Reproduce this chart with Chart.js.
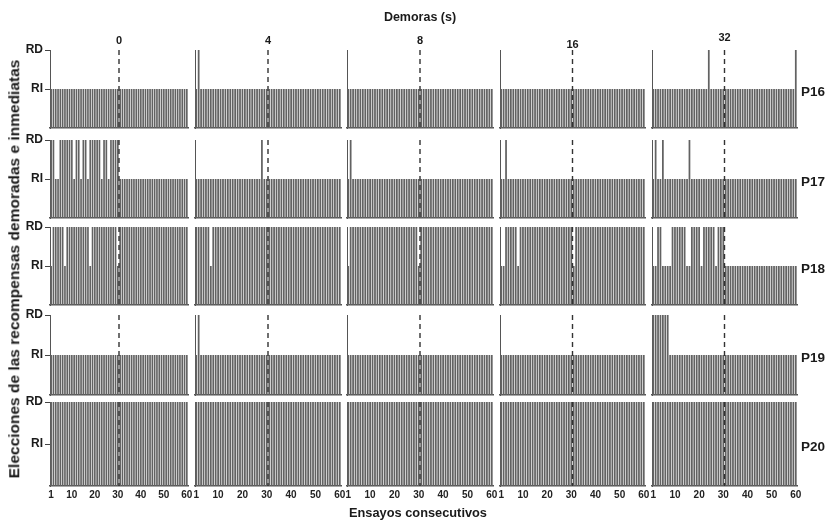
<!DOCTYPE html>
<html><head><meta charset="utf-8">
<script src="https://cdn.jsdelivr.net/npm/chart.js@4.4.0/dist/chart.umd.min.js"></script>
<style>
html,body{margin:0;padding:0;background:#fff;width:829px;height:522px;overflow:hidden;position:relative;font-family:"Liberation Sans",Arial,sans-serif;}
canvas{position:absolute;}
.t{position:absolute;font-weight:bold;color:#1a1a1a;white-space:nowrap;line-height:1;}
</style></head><body>
<script>
// ---------- DATA ----------
const delays = ['0', '4', '8', '16', '32'];            // Demoras (s)
const participants = ['P16', 'P17', 'P18', 'P19', 'P20'];
const trials = [1,2,3,4,5,6,7,8,9,10,11,12,13,14,15,16,17,18,19,20,21,22,23,24,25,26,27,28,29,30,
                31,32,33,34,35,36,37,38,39,40,41,42,43,44,45,46,47,48,49,50,51,52,53,54,55,56,57,58,59,60];
const xTickLabels = ['1', '10', '20', '30', '40', '50', '60'];
const yTickLabels = ['RI', 'RD'];
const yTickValues = [0.5, 1];
const choiceValue = { I: 0.5, D: 1 };   // I = RI (inmediata), D = RD (demorada)
const delayOnsetAfterTrial = 30;

// one string per delay (0,4,8,16,32); each 60 trials, grouped by 10
const P16 = [
  'IIIIIIIIII IIIIIIIIII IIIIIIIIII IIIIIIIIII IIIIIIIIII IIIIIIIIII',
  'IDIIIIIIII IIIIIIIIII IIIIIIIIII IIIIIIIIII IIIIIIIIII IIIIIIIIII',
  'IIIIIIIIII IIIIIIIIII IIIIIIIIII IIIIIIIIII IIIIIIIIII IIIIIIIIII',
  'IIIIIIIIII IIIIIIIIII IIIIIIIIII IIIIIIIIII IIIIIIIIII IIIIIIIIII',
  'IIIIIIIIII IIIIIIIIII IIIDIIIIII IIIIIIIIII IIIIIIIIII IIIIIIIIID'
];
const P17 = [
  'DDIIDDDDDD IDDIDDIDDD DDIDDIDDDD IIIIIIIIII IIIIIIIIII IIIIIIIIII',
  'IIIIIIIIII IIIIIIIIII IIIIIIIDII IIIIIIIIII IIIIIIIIII IIIIIIIIII',
  'IDIIIIIIII IIIIIIIIII IIIIIIIIII IIIIIIIIII IIIIIIIIII IIIIIIIIII',
  'IIDIIIIIII IIIIIIIIII IIIIIIIIII IIIIIIIIII IIIIIIIIII IIIIIIIIII',
  'IDIIDIIIII IIIIIDIIII IIIIIIIIII IIIIIIIIII IIIIIIIIII IIIIIIIIII'
];
const P18 = [
  'IDDDDDIDDD DDDDDDDIDD DDDDDDDDDI DDDDDDDDDD DDDDDDDDDD DDDDDDDDDD',
  'DDDDDDIDDD DDDDDDDDDD DDDDDDDDDD DDDDDDDDDD DDDDDDDDDD DDDDDDDDDD',
  'IDDDDDDDDD DDDDDDDDDD DDDDDDDDDI DDDDDDDDDD DDDDDDDDDD DDDDDDDDDD',
  'IIDDDDDIDD DDDDDDDDDD DDDDDDDDDD IDDDDDDDDD DDDDDDDDDD DDDDDDDDDD',
  'IIDDIIIIDD DDDDIIDDDD IDDDDDIDDD IIIIIIIIII IIIIIIIIII IIIIIIIIII'
];
const P19 = [
  'IIIIIIIIII IIIIIIIIII IIIIIIIIII IIIIIIIIII IIIIIIIIII IIIIIIIIII',
  'IDIIIIIIII IIIIIIIIII IIIIIIIIII IIIIIIIIII IIIIIIIIII IIIIIIIIII',
  'IIIIIIIIII IIIIIIIIII IIIIIIIIII IIIIIIIIII IIIIIIIIII IIIIIIIIII',
  'IIIIIIIIII IIIIIIIIII IIIIIIIIII IIIIIIIIII IIIIIIIIII IIIIIIIIII',
  'DDDDDDDIII IIIIIIIIII IIIIIIIIII IIIIIIIIII IIIIIIIIII IIIIIIIIII'
];
const P20 = [
  'DDDDDDDDDD DDDDDDDDDD DDDDDDDDDD DDDDDDDDDD DDDDDDDDDD DDDDDDDDDD',
  'DDDDDDDDDD DDDDDDDDDD DDDDDDDDDD DDDDDDDDDD DDDDDDDDDD DDDDDDDDDD',
  'DDDDDDDDDD DDDDDDDDDD DDDDDDDDDD DDDDDDDDDD DDDDDDDDDD DDDDDDDDDD',
  'DDDDDDDDDD DDDDDDDDDD DDDDDDDDDD DDDDDDDDDD DDDDDDDDDD DDDDDDDDDD',
  'DDDDDDDDDD DDDDDDDDDD DDDDDDDDDD DDDDDDDDDD DDDDDDDDDD DDDDDDDDDD'
];
const choices = [P16, P17, P18, P19, P20];

// ---------- LAYOUT ----------
const colLeft = [50, 195, 347, 500, 652];
const colRight = [188, 341, 493, 645, 797];
const rowTop = [50, 140, 227, 315, 402];
const rowBottom = [128, 218, 305, 395, 486];
const FONT = '"Liberation Sans", Arial, sans-serif';

const dashPlugin = {
  id: 'delayLine',
  afterDatasetsDraw(chart) {
    const xs = chart.scales.x, ca = chart.chartArea, ctx = chart.ctx;
    const px = (xs.getPixelForValue(delayOnsetAfterTrial - 1) + xs.getPixelForValue(delayOnsetAfterTrial)) / 2;
    ctx.save();
    ctx.setLineDash([5, 4]);
    ctx.strokeStyle = '#333';
    ctx.lineWidth = 1.4;
    ctx.beginPath();
    ctx.moveTo(px, ca.top);
    ctx.lineTo(px, ca.bottom);
    ctx.stroke();
    ctx.restore();
  }
};

function addText(txt, x, y, size, extraStyle) {
  const d = document.createElement('div');
  d.className = 't';
  d.textContent = txt;
  d.style.left = x + 'px';
  d.style.top = y + 'px';
  d.style.fontSize = size + 'px';
  d.style.transform = extraStyle || 'translate(-50%,-50%)';
  document.body.appendChild(d);
  return d;
}

function makePanel(r, c) {
  const yW = c === 0 ? 40 : 0;
  const xH = r === 4 ? 16 : 0;
  const padL = yW + 8, padR = 8, padT = 10, padB = xH + 6;
  const w = colRight[c] - colLeft[c], h = rowBottom[r] - rowTop[r];
  const W = w + padL + padR, H = h + padT + padB;
  const cv = document.createElement('canvas');
  cv.width = W; cv.height = H;
  cv.style.width = W + 'px'; cv.style.height = H + 'px';
  cv.style.left = (colLeft[c] - padL) + 'px';
  cv.style.top = (rowTop[r] - padT) + 'px';
  document.body.appendChild(cv);
  const seq = choices[r][c].replace(/ /g, '');
  const values = seq.split('').map(ch => choiceValue[ch]);
  new Chart(cv, {
    type: 'bar',
    data: {
      labels: trials,
      datasets: [{
        data: values,
        backgroundColor: '#626262',
        borderWidth: 0,
        barPercentage: 0.72,
        categoryPercentage: 1
      }]
    },
    options: {
      responsive: false,
      animation: false,
      devicePixelRatio: 1,
      layout: { padding: { left: padL - yW, right: padR, top: padT, bottom: padB - xH } },
      plugins: { legend: { display: false }, tooltip: { enabled: false }, title: { display: false } },
      scales: {
        x: {
          grid: { display: false, drawTicks: false },
          border: { display: true, color: '#555', width: 1.5 },
          ticks: {
            display: r === 4, autoSkip: false, maxRotation: 0, minRotation: 0, padding: 3,
            color: '#222', font: { size: 10, weight: 'bold', family: FONT },
            callback: function (v, i) { const l = String(trials[i]); return xTickLabels.includes(l) ? l : ''; }
          },
          afterFit(s) { s.height = xH; s.paddingLeft = 0; s.paddingRight = 0; }
        },
        y: {
          min: 0, max: 1,
          grid: { display: c === 0, drawOnChartArea: false, drawTicks: true, tickLength: 5, color: '#444', lineWidth: 1 },
          border: { display: true, color: '#555', width: 1 },
          ticks: {
            display: c === 0, padding: 2, color: '#1a1a1a', font: { size: 12, weight: 'bold', family: FONT },
            callback: function (v) { const k = yTickValues.indexOf(v); return k >= 0 ? yTickLabels[k] : ''; }
          },
          afterBuildTicks(s) { s.ticks = yTickValues.map(v => ({ value: v })); },
          afterFit(s) { s.width = yW; s.paddingTop = 0; s.paddingBottom = 0; }
        }
      }
    },
    plugins: [dashPlugin]
  });
}

for (let r = 0; r < 5; r++) for (let c = 0; c < 5; c++) makePanel(r, c);

// titles
addText('Demoras (s)', 420, 17, 12.5);
const headY = [40, 40, 40, 44, 37];
for (let c = 0; c < 5; c++) {
  const w = colRight[c] - colLeft[c];
  addText(delays[c], colLeft[c] + w * delayOnsetAfterTrial / 60, headY[c], 11);
}
for (let r = 0; r < 5; r++) {
  const mid = (rowTop[r] + rowBottom[r]) / 2;
  addText(participants[r], 801, mid + 3, 13.5, 'translate(0,-50%)');
}
addText('Ensayos consecutivos', 418, 513, 12.8);
addText('Elecciones de las recompensas demoradas e inmediatas', 14, 269, 15.5, 'translate(-50%,-50%) rotate(-90deg)');
</script>
</body></html>
